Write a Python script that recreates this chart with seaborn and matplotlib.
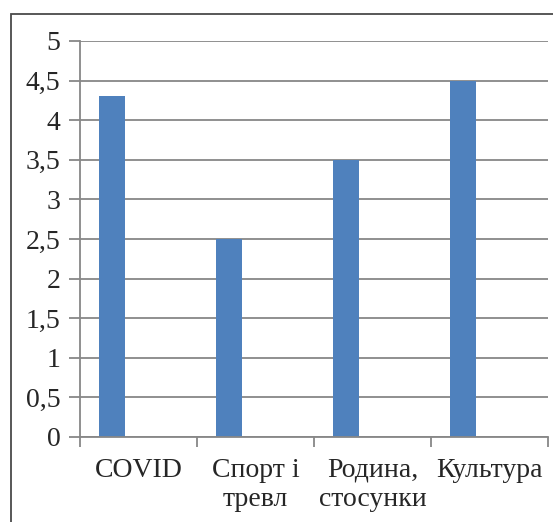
import matplotlib
matplotlib.use("Agg")
import matplotlib.pyplot as plt
import pandas as pd
import seaborn as sns
from matplotlib.patches import Rectangle
from matplotlib.ticker import FixedLocator, FuncFormatter

CATEGORIES = ["COVID", "Спорт і\nтревл", "Родина,\nстосунки", "Культура"]
VALUES = [4.3, 2.5, 3.5, 4.5]
SERIES = ["Ряд 1", "Ряд 2", "Ряд 3"]  # only the first one has data, like the original Excel chart

BAR_COLOR = "#4F81BD"
GRID_COLOR = "#878787"
FONT = "Liberation Serif"


def main() -> None:
    sns.set_style("white")
    plt.rcParams["font.family"] = "serif"
    plt.rcParams["font.serif"] = [FONT, "DejaVu Serif"]

    df = pd.DataFrame({"category": CATEGORIES, "value": VALUES, "series": SERIES[0]})

    fig = plt.figure(figsize=(5.53, 5.22), dpi=100)
    ax = fig.add_axes([80 / 553, 1 - 437 / 522, (548 - 80) / 553, (437 - 41) / 522])

    sns.barplot(
        data=df,
        x="category",
        y="value",
        hue="series",
        hue_order=SERIES,
        order=CATEGORIES,
        palette=[BAR_COLOR] * len(SERIES),
        width=0.667,
        dodge=True,
        linewidth=0,
        saturation=1,
        legend=False,
        ax=ax,
    )

    ax.set_xlim(-0.5, len(CATEGORIES) - 0.5)
    ax.set_ylim(0, 5)
    ax.set_yticks([i * 0.5 for i in range(11)])
    ax.yaxis.set_major_formatter(
        FuncFormatter(lambda v, _: f"{v:g}".replace(".", ","))
    )
    ax.grid(axis="y", color=GRID_COLOR, linewidth=1.3)
    ax.set_axisbelow(True)

    ax.set_xlabel("")
    ax.set_ylabel("")

    # category boundary ticks like Excel
    ax.xaxis.set_minor_locator(
        FixedLocator([i - 0.5 for i in range(len(CATEGORIES) + 1)])
    )
    ax.tick_params(axis="x", which="major", length=0, pad=15)
    ax.tick_params(axis="x", which="minor", length=7, width=1.3, color=GRID_COLOR,
                   direction="out", bottom=True)
    ax.tick_params(axis="y", length=8, width=1.3, color=GRID_COLOR, pad=6,
                   left=True, direction="out")
    for label in ax.get_xticklabels() + ax.get_yticklabels():
        label.set_fontfamily(FONT)
        label.set_fontsize(20)
    for label in ax.get_xticklabels():
        label.set_linespacing(1.2)
        label.set_verticalalignment("top")

    for side in ["top", "right"]:
        ax.spines[side].set_visible(False)
    for side in ["left", "bottom"]:
        ax.spines[side].set_color(GRID_COLOR)
        ax.spines[side].set_linewidth(1.3)

    # outer chart border (Excel chart area), partly cut off by the image edge
    fig.patches.append(
        Rectangle((11 / 553, -0.1), 1.1, 1 - 14 / 522 + 0.1,
                  transform=fig.transFigure, fill=False,
                  edgecolor="#4a4a4a", linewidth=1.3)
    )

    fig.savefig("out.png", dpi=100, facecolor="white")


if __name__ == "__main__":
    main()
